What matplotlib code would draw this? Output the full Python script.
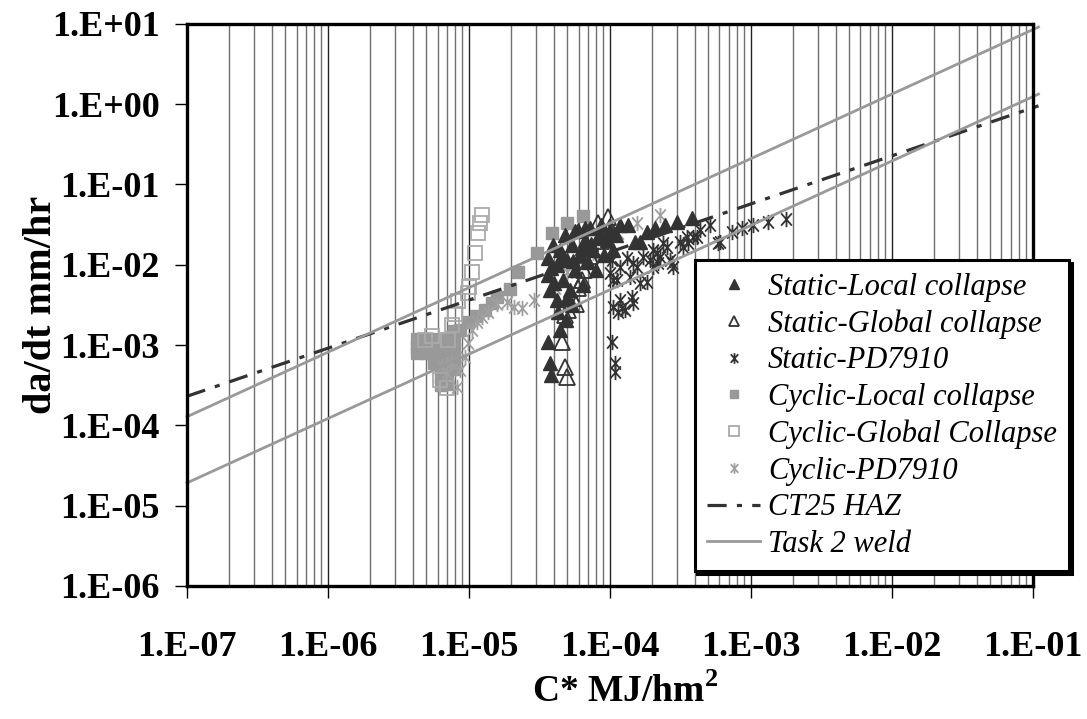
import numpy as np
import matplotlib
matplotlib.use("Agg")
import matplotlib.pyplot as plt
from matplotlib.path import Path
from matplotlib.ticker import FixedLocator, FuncFormatter, NullLocator

plt.rcParams['font.family'] = ['Liberation Serif', 'DejaVu Serif']
plt.rcParams['mathtext.fontset'] = 'custom'
plt.rcParams['mathtext.rm'] = 'Liberation Serif'
plt.rcParams['mathtext.bf'] = 'Liberation Serif:bold'

# --- data ---
static_local_x = [3.63e-5, 3.63e-5, 3.75e-5, 3.94e-5, 4.21e-5, 4.21e-5, 4.28e-5, 4.42e-5, 4.65e-5, 4.8e-5,
                  4.95e-5, 5.2e-5, 5.37e-5, 5.65e-5, 5.93e-5, 6.12e-5, 6.44e-5, 6.65e-5, 6.98e-5, 7.21e-5,
                  7.57e-5, 7.96e-5, 8.22e-5, 8.63e-5, 9.06e-5, 9.53e-5, 1.0e-4, 1.05e-4, 1.1e-4, 1.18e-4,
                  5.37e-5, 4.88e-5, 4.42e-5, 5.65e-5, 6.65e-5,
                  1.34e-4, 1.5e-4, 1.65e-4, 1.83e-4, 2.08e-4, 2.45e-4, 2.99e-4, 3.82e-4,
                  3.63e-5, 3.75e-5, 3.85e-5,
                  3.8e-5, 4.5e-5, 5.5e-5, 6.3e-5, 7.4e-5, 8.5e-5, 4.0e-5, 5.0e-5]
static_local_y = [1.22e-2, 7.5e-3, 4.9e-3, 1.77e-2, 1.0e-2, 3.66e-3, 2.6e-3, 1.53e-2, 6.5e-3, 2.36e-2,
                  1.15e-2, 4.9e-3, 1.77e-2, 8.6e-3, 2.72e-2, 1.33e-2, 5.6e-3, 2.04e-2, 1.09e-2, 2.88e-2,
                  1.53e-2, 8.6e-3, 2.16e-2, 3.14e-2, 1.33e-2, 2.04e-2, 2.72e-2, 1.53e-2, 2.36e-2, 3.14e-2,
                  3.17e-3, 2.06e-3, 1.55e-3, 2.6e-2, 2.9e-2,
                  3.14e-2, 1.93e-2, 1.93e-2, 2.57e-2, 2.88e-2, 3.14e-2, 3.42e-2, 3.84e-2,
                  1.1e-3, 6.0e-4, 4.25e-4,
                  9.0e-3, 1.2e-2, 1.1e-2, 1.6e-2, 1.8e-2, 2.5e-2, 6.0e-3, 3.8e-3]

static_global_x = [4.57e-5, 4.8e-5, 4.95e-5, 5.03e-5, 4.8e-5, 5.44e-5, 5.93e-5, 6.31e-5, 8.22e-5, 9.77e-5,
                   1.0e-4, 9.29e-5, 6.6e-5, 7.2e-5, 8.6e-5, 5.8e-5]
static_global_y = [1.1e-3, 5.36e-4, 4.02e-4, 2.74e-3, 2.38e-3, 3.87e-3, 5.15e-3, 6.49e-3, 3.32e-2, 3.95e-2,
                   2.96e-2, 2.5e-2, 8.5e-3, 1.3e-2, 2.0e-2, 3.2e-3]

static_pd_x = [1.03e-4, 1.05e-4, 1.18e-4, 1.32e-4, 1.39e-4, 1.55e-4, 1.71e-4, 1.83e-4, 2.02e-4, 2.15e-4,
               2.38e-4, 2.67e-4, 2.8e-4, 3.13e-4, 3.52e-4, 1.18e-4, 1.22e-4, 1.14e-4, 1.43e-4, 1.46e-4,
               1.28e-4, 1.63e-4, 1.92e-4, 2.26e-4, 2.54e-4, 2.75e-4, 3.57e-4, 3.88e-4, 4.35e-4, 5.12e-4,
               6.03e-4, 7.33e-4, 8.63e-4, 1.03e-3, 1.32e-3, 1.77e-3, 3.29e-4, 4.14e-4, 1.0e-4, 1.12e-4,
               1.46e-4, 2.02e-4, 2.19e-4, 1.05e-4, 1.03e-4, 1.08e-4, 1.08e-4, 5.9e-4]
static_pd_y = [1.15e-2, 6.5e-3, 9.4e-3, 1.22e-2, 7.1e-3, 9.4e-3, 1.25e-2, 6.1e-3, 9.4e-3, 1.41e-2,
               1.87e-2, 1.15e-2, 9.4e-3, 1.93e-2, 2.22e-2, 3.66e-3, 2.9e-3, 2.59e-3, 3.98e-3, 3.36e-3,
               2.74e-3, 5.96e-3, 1.15e-2, 1.25e-2, 1.67e-2, 1.06e-2, 1.87e-2, 2.22e-2, 2.72e-2, 3.14e-2,
               1.93e-2, 2.57e-2, 2.88e-2, 3.14e-2, 3.42e-2, 3.73e-2, 1.67e-2, 2.22e-2, 7.9e-3, 6.5e-3,
               1.06e-2, 1.53e-2, 1.06e-2, 2.99e-3, 1.1e-3, 6.0e-4, 4.6e-4, 1.87e-2]

cyclic_local_x = [4.3e-6, 4.3e-6, 4.3e-6, 5e-6, 5e-6, 5e-6, 5.7e-6, 5.7e-6, 5.7e-6, 5.7e-6,
                  6.3e-6, 6.3e-6, 6.3e-6, 6.3e-6, 6.3e-6, 6.3e-6, 7e-6, 7e-6, 7e-6, 7e-6, 7e-6, 7e-6,
                  7.8e-6, 7.8e-6, 7.8e-6, 7.8e-6, 7.8e-6,
                  8.6e-6, 9.8e-6, 1.12e-5, 1.3e-5, 1.46e-5, 1.59e-5, 1.95e-5, 2.24e-5, 3.03e-5, 3.9e-5,
                  5.0e-5, 6.5e-5]
cyclic_local_y = [1.2e-3, 9.5e-4, 8e-4, 1.2e-3, 1e-3, 8e-4, 1.2e-3, 9.5e-4, 7.5e-4, 6e-4,
                  1.1e-3, 8.5e-4, 6.5e-4, 5e-4, 4e-4, 3.2e-4, 1.2e-3, 9e-4, 7e-4, 5.5e-4, 4.2e-4, 3.3e-4,
                  1.5e-3, 1.2e-3, 9e-4, 7e-4, 5e-4,
                  1.55e-3, 1.95e-3, 2.3e-3, 2.75e-3, 3.3e-3, 4.0e-3, 5.0e-3, 8.2e-3, 1.4e-2, 2.5e-2,
                  3.3e-2, 4.0e-2]

cyclic_global_x = [1.24e-5, 1.2e-5, 1.16e-5, 1.1e-5, 1.05e-5, 1.0e-5, 9.8e-6, 8.4e-6, 8e-6, 7.6e-6,
                   7.1e-6, 4.9e-6, 5.5e-6, 7e-6, 6.2e-6]
cyclic_global_y = [4.2e-2, 3.3e-2, 2.5e-2, 1.4e-2, 8.2e-3, 5.3e-3, 4.5e-3, 3.5e-3, 2.4e-3, 1.8e-3,
                   1.16e-3, 1.16e-3, 1.3e-3, 2.9e-4, 3.7e-4]

cyclic_pd_x = [8.2e-6, 8.6e-6, 9.4e-6, 9.8e-6, 1.05e-5, 1.14e-5, 1.24e-5, 1.36e-5, 1.59e-5, 1.86e-5,
               2.1e-5, 2.4e-5, 2.9e-5, 4.1e-5, 5.0e-5, 7.6e-5, 1.14e-4, 1.55e-4, 2.26e-4,
               7e-6, 7.5e-6, 6.5e-6]
cyclic_pd_y = [3.0e-4, 4.9e-4, 7.1e-4, 1.06e-3, 1.55e-3, 1.95e-3, 2.25e-3, 2.6e-3, 3.2e-3, 3.4e-3,
               3.0e-3, 2.9e-3, 3.65e-3, 5.2e-3, 8.2e-3, 1.4e-2, 2.5e-2, 3.3e-2, 4.2e-2,
               4.5e-4, 6e-4, 5.5e-4]

# trend lines (end points)
line_x = [1e-7, 1.1e-1]
ct25_y = [2.3e-4, 0.95]
weld_upper_y = [1.28e-4, 9.1]
weld_lower_y = [1.92e-5, 1.33]

x_ticks = [1e-7, 1e-6, 1e-5, 1e-4, 1e-3, 1e-2, 1e-1]
y_ticks = [1e-6, 1e-5, 1e-4, 1e-3, 1e-2, 1e-1, 1e0, 1e1]

# --- figure ---
fig = plt.figure(figsize=(10.87, 7.19), dpi=100)
ax = fig.add_axes([0.172, 0.185, 0.778, 0.782])
ax.set_xscale('log')
ax.set_yscale('log')
ax.set_xlim(1e-7, 1e-1)
ax.set_ylim(1e-6, 10)

# vertical gridlines at every 1..9 x decade
for dec in range(-7, -1):
    for m in range(1, 10):
        v = m * 10.0 ** dec
        if v <= 1e-7:
            continue
        col = '#222222' if m == 1 else '#707070'
        ax.axvline(v, color=col, lw=1.0, zorder=0)

ast = Path([(0, -1), (0, 1), (-0.7, -0.8), (0.7, 0.8), (-0.7, 0.8), (0.7, -0.8)],
           [Path.MOVETO, Path.LINETO] * 3)

dark = '#333333'
ax.plot(cyclic_local_x, cyclic_local_y, ls='none', marker='s', ms=8.5, mfc='#999999', mec='#999999',
        label='Cyclic-Local collapse', zorder=3)
ax.plot(cyclic_global_x, cyclic_global_y, ls='none', marker='s', ms=10, mfc='none', mec='#aaaaaa', mew=1.3,
        label='Cyclic-Global Collapse', zorder=3)
ax.plot(cyclic_pd_x, cyclic_pd_y, ls='none', marker=ast, ms=11, mfc='none', mec='#a0a0a0', mew=1.3,
        label='Cyclic-PD7910', zorder=3)
ax.plot(static_pd_x, static_pd_y, ls='none', marker=ast, ms=11, mfc='none', mec=dark, mew=1.3,
        label='Static-PD7910', zorder=4)
ax.plot(static_global_x, static_global_y, ls='none', marker='^', ms=11, mfc='none', mec=dark, mew=1.3,
        label='Static-Global collapse', zorder=4)
ax.plot(static_local_x, static_local_y, ls='none', marker='^', ms=10, mfc=dark, mec=dark,
        label='Static-Local collapse', zorder=4)

ax.plot(line_x, ct25_y, color=dark, lw=2.3, ls=(0, (6, 3.2, 1.6, 3.2)), label='CT25 HAZ',
        zorder=5, clip_on=False)
ax.plot(line_x, weld_upper_y, color='#999999', lw=2, label='Task 2 weld', zorder=5, clip_on=False)
ax.plot(line_x, weld_lower_y, color='#999999', lw=2, zorder=5, clip_on=False)

# ticks and labels
fmt = FuncFormatter(lambda v, p: "1.E%+03d" % int(round(np.log10(v))))
ax.xaxis.set_major_locator(FixedLocator(x_ticks))
ax.yaxis.set_major_locator(FixedLocator(y_ticks))
ax.xaxis.set_minor_locator(NullLocator())
ax.yaxis.set_minor_locator(NullLocator())
ax.xaxis.set_major_formatter(fmt)
ax.yaxis.set_major_formatter(fmt)
ax.tick_params(which='major', direction='out', length=8.5, width=1, labelsize=26)
ax.tick_params(axis='x', pad=24)
ax.tick_params(axis='y', pad=11)
for lab in ax.get_xticklabels() + ax.get_yticklabels():
    lab.set_fontweight('bold')

for s in ax.spines.values():
    s.set_linewidth(2.4)
    s.set_zorder(6)

ax.set_xlabel(r'C* MJ/hm$^{\mathbf{2}}$', fontsize=27, fontweight='bold')
ax.xaxis.set_label_coords(0.518, -0.157)
ax.set_ylabel('da/dt mm/hr', fontsize=29, fontweight='bold')
ax.yaxis.set_label_coords(-0.150, 0.5)

order = ['Static-Local collapse', 'Static-Global collapse', 'Static-PD7910', 'Cyclic-Local collapse',
         'Cyclic-Global Collapse', 'Cyclic-PD7910', 'CT25 HAZ', 'Task 2 weld']
h, l = ax.get_legend_handles_labels()
hd = dict(zip(l, h))
leg = fig.legend([hd[k] for k in order], order, loc='upper left',
                 bbox_to_anchor=(0.639, 0.638),
                 prop={'family': 'Liberation Serif', 'style': 'italic', 'size': 22},
                 frameon=True, fancybox=False, shadow={'color': 'black', 'alpha': 1},
                 markerscale=0.7, labelspacing=0.25, handlelength=1.75, handletextpad=0.25,
                 borderpad=0.4, borderaxespad=0)
leg.get_frame().set_edgecolor('black')
leg.get_frame().set_linewidth(2.2)
leg.set_zorder(10)

fig.savefig('out.png', dpi=100)
